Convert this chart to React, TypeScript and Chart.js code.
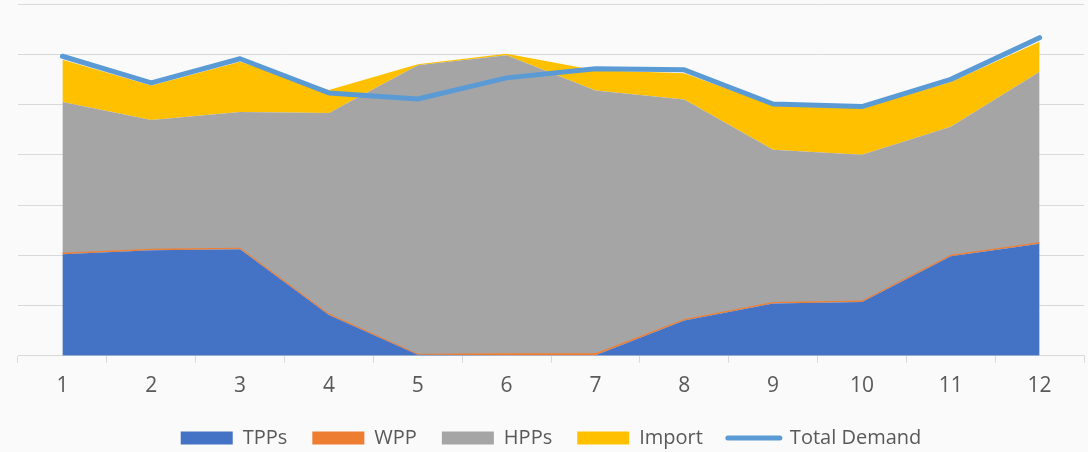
import React, { useEffect, useRef } from "react";
import { Chart, registerables } from "chart.js";

Chart.register(...registerables);

const months = ["1", "2", "3", "4", "5", "6", "7", "8", "9", "10", "11", "12"];
const tpps = [202, 210, 212, 81, 2, 1, 1, 70, 104, 107, 198, 223];
const wpp = [2, 2, 2, 2, 1, 3, 3, 2, 2, 2, 2, 2];
const hpps = [301, 257, 271, 400, 575, 594, 524, 438, 304, 291, 256, 340];
const imports = [84, 69, 100, 46, 2, 3, 40, 52, 88, 93, 89, 60];
const totalDemand = [596, 543, 591, 523, 511, 553, 571, 569, 501, 496, 550, 633];

const FONT = "'Open Sans', 'DejaVu Sans', sans-serif";
const TEXT = "#595959";
const GRID = "#d9d9d9";
const BG = "#fafafa";

export default function App() {
  const ref = useRef<HTMLCanvasElement | null>(null);

  useEffect(() => {
    if (!ref.current) return;
    const bgPlugin = {
      id: "bg",
      beforeDraw(chart: any) {
        const { ctx, width, height } = chart;
        ctx.save();
        ctx.fillStyle = BG;
        ctx.fillRect(0, 0, width, height);
        ctx.restore();
      },
    };
    const area = (label: string, data: number[], color: string, fill: any, extra: any = {}) => ({
      type: "line" as const,
      label,
      data,
      backgroundColor: color,
      borderColor: color,
      borderWidth: 0,
      pointRadius: 0,
      fill,
      stack: "gen",
      order: 1,
      tension: 0,
      ...extra,
    });
    const chart = new Chart(ref.current, {
      type: "line",
      data: {
        labels: months,
        datasets: [
          area("TPPs", tpps, "#4472C4", "origin"),
          area("WPP", wpp, "#ED7D31", "-1", { borderWidth: 1 }),
          area("HPPs", hpps, "#A5A5A5", "-1"),
          area("Import", imports, "#FFC000", "-1"),
          {
            type: "line",
            label: "Total Demand",
            data: totalDemand,
            borderColor: "#5B9BD5",
            backgroundColor: "#5B9BD5",
            borderWidth: 5,
            borderCapStyle: "round",
            borderJoinStyle: "round",
            pointRadius: 0,
            fill: false,
            stack: "demand",
            order: 0,
            tension: 0,
          },
        ],
      },
      options: {
        animation: false,
        responsive: false,
        maintainAspectRatio: false,
        layout: { padding: { left: 18, right: 4, top: 4, bottom: 0 } },
        plugins: {
          tooltip: { enabled: false },
          legend: {
            position: "bottom",
            labels: {
              usePointStyle: true,
              pointStyleWidth: 52,
              boxWidth: 52,
              boxHeight: 13,
              padding: 25,
              color: TEXT,
              font: { family: FONT, size: 20 },
              generateLabels(chart: any) {
                return chart.data.datasets.map((ds: any, i: number) => {
                  const isLine = ds.label === "Total Demand";
                  return {
                    text: ds.label,
                    fillStyle: ds.backgroundColor,
                    strokeStyle: ds.borderColor,
                    lineWidth: isLine ? 5 : 0,
                    lineCap: "round",
                    pointStyle: isLine ? "line" : "rect",
                    fontColor: TEXT,
                    hidden: false,
                    datasetIndex: i,
                  };
                });
              },
            },
          },
        },
        scales: {
          x: {
            offset: true,
            grid: {
              offset: true,
              drawOnChartArea: false,
              drawTicks: true,
              tickLength: 7,
              color: GRID,
            },
            border: { display: true, color: GRID, width: 1 },
            ticks: {
              color: TEXT,
              font: { family: FONT, size: 21 },
              padding: 11,
            },
            afterFit(scale: any) {
              scale.height = scale.height - 7;
            },
          },
          y: {
            stacked: true,
            min: 0,
            max: 700,
            ticks: { display: false, stepSize: 100 },
            grid: { color: GRID, drawTicks: false, lineWidth: 1 },
            border: { display: false },
          },
        },
      },
      plugins: [bgPlugin],
    });
    return () => chart.destroy();
  }, []);

  return (
    <div
      style={{
        position: "fixed",
        left: 0,
        top: 0,
        width: 1088,
        height: 452,
        overflow: "hidden",
        background: BG,
      }}
    >
      <canvas ref={ref} width={1088} height={458} style={{ display: "block", width: 1088, height: 458 }} />
    </div>
  );
}
